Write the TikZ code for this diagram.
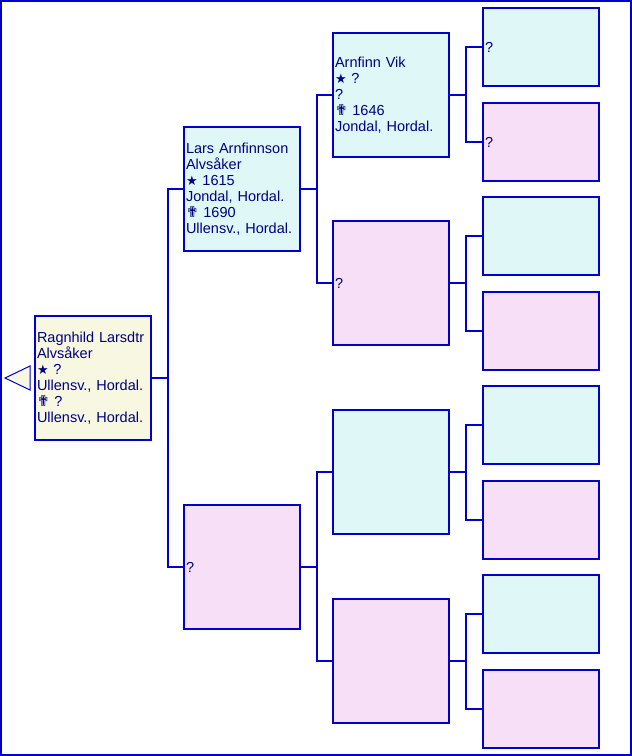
\documentclass[tikz,border=0pt]{standalone}
\usepackage{fontspec}
\setmainfont{Liberation Sans}
\newfontfamily\symfont{DejaVu Sans}

\definecolor{linkblue}{RGB}{0,0,204}
\definecolor{textnavy}{RGB}{0,0,128}
\definecolor{malefill}{RGB}{223,247,247}
\definecolor{femalefill}{RGB}{247,223,247}
\definecolor{rootfill}{RGB}{247,247,226}

\newcommand{\born}{{\symfont\fontsize{13}{16}\selectfont ★}}
\newcommand{\died}{{\symfont\fontsize{15}{16}\selectfont ✟}}

\begin{document}
\begin{tikzpicture}[x=1pt, y=-1pt, font=\fontsize{14.5}{16}\selectfont, text=textnavy,
        person/.style={rectangle, draw=linkblue, line width=2pt, anchor=west, minimum width=116pt, minimum height=124pt, text width=112pt, inner sep=2pt, align=left},
        ancestor/.style={person, minimum height=78pt},
        male/.style={fill=malefill},
        female/.style={fill=femalefill},
        link/.style={draw=linkblue, line width=2pt}]

      % 1. Frame (Background)
      \useasboundingbox (0,0) rectangle (632,756);
      \draw [linkblue, line width=2pt] (1,1) rectangle (631,755);
      \draw [linkblue, line width=1pt, fill=rootfill] (5,378) -- (30,366) -- (30,390) -- cycle;

      % 2. Proband
      \node [person, fill=rootfill] (root) at (34,378) {Ragnhild Larsdtr\\Alvsåker\\\born\ ?\\Ullensv., Hordal.\\\died\ ?\\Ullensv., Hordal.};

      % 3. Parents
      \node [person, male] (father) at (183,189) {Lars Arnfinnson\\Alvsåker\\\born\ 1615\\Jondal, Hordal.\\\died\ 1690\\Ullensv., Hordal.};
      \node [person, female] (mother) at (183,567) {?};

      % 4. Grandparents
      \node [person, male] (ff) at (332,95) {Arnfinn Vik\\\born\ ?\\?\\\died\ 1646\\Jondal, Hordal.};
      \node [person, female] (fm) at (332,283) {?};
      \node [person, male] (mf) at (332,472) {};
      \node [person, female] (mm) at (332,661) {};

      % 5. Great-grandparents
      \node [ancestor, male] (fff) at (482,47) {?};
      \node [ancestor, female] (ffm) at (482,142) {?};
      \node [ancestor, male] (fmf) at (482,236) {};
      \node [ancestor, female] (fmm) at (482,331) {};
      \node [ancestor, male] (mff) at (482,425) {};
      \node [ancestor, female] (mfm) at (482,520) {};
      \node [ancestor, male] (mmf) at (482,614) {};
      \node [ancestor, female] (mmm) at (482,709) {};

      % 6. Draw Connections
      \draw [link] (root.east) -- ++(16,0) |- (father.west);
      \draw [link] (root.east) -- ++(16,0) |- (mother.west);

      \draw [link] (father.east) -- ++(16,0) |- (ff.west);
      \draw [link] (father.east) -- ++(16,0) |- (fm.west);
      \draw [link] (mother.east) -- ++(16,0) |- (mf.west);
      \draw [link] (mother.east) -- ++(16,0) |- (mm.west);

      \draw [link] (ff.east) -- ++(16,0) |- (fff.west);
      \draw [link] (ff.east) -- ++(16,0) |- (ffm.west);
      \draw [link] (fm.east) -- ++(16,0) |- (fmf.west);
      \draw [link] (fm.east) -- ++(16,0) |- (fmm.west);
      \draw [link] (mf.east) -- ++(16,0) |- (mff.west);
      \draw [link] (mf.east) -- ++(16,0) |- (mfm.west);
      \draw [link] (mm.east) -- ++(16,0) |- (mmf.west);
      \draw [link] (mm.east) -- ++(16,0) |- (mmm.west);
    \end{tikzpicture}
\end{document}
